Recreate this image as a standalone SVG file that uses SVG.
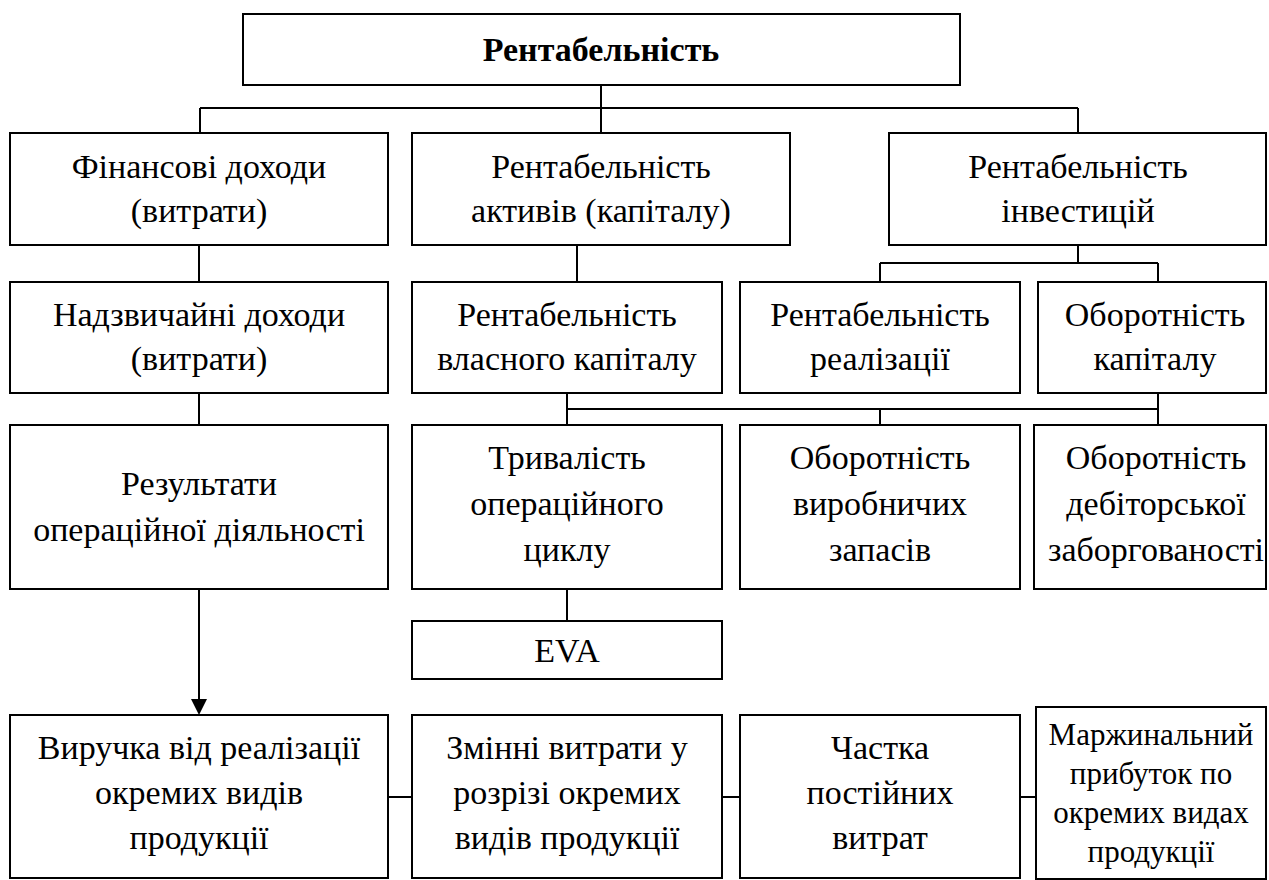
<svg xmlns="http://www.w3.org/2000/svg" width="1269" height="880" viewBox="0 0 1269 880">
  <style>
    .box { fill: #ffffff; stroke: #000000; stroke-width: 2; }
    .ln { fill: none; stroke: #000000; stroke-width: 2; }
    text { font-family: "Liberation Serif", serif; font-size: 34px; fill: #000000; text-anchor: middle; }
    .title { font-weight: bold; font-size: 34px; }
    .small { font-size: 31px; }
  </style>
  <rect width="1269" height="880" fill="#ffffff"/>

  <!-- connectors -->
  <g id="connectors">
    <path class="ln" d="M601,85 V132 M200,108 H1078 M200,108 V133 M1078,108 V133"/>
    <path class="ln" d="M199,245 V282 M199,393 V425"/>
    <path class="ln" d="M577,245 V282"/>
    <path class="ln" d="M1078,245 V263 M880,263 H1158 M880,263 V282 M1158,263 V282"/>
    <path class="ln" d="M567,393 V425 M567,409 H1158 M880,409 V425 M1158,393 V425"/>
    <path class="ln" d="M567,589 V621"/>
    <path class="ln" d="M199,589 V700"/>
    <path d="M191,699 L207,699 L199,715 Z" fill="#000000"/>
    <path class="ln" d="M388,797 H412 M722,797 H740 M1020,797 H1036"/>
  </g>

  <g id="n-top">
    <rect class="box" x="243" y="14" width="717" height="71"/>
    <text class="title" x="601" y="61">Рентабельність</text>
  </g>

  <g id="n-fin">
    <rect class="box" x="10" y="133" width="378" height="112"/>
    <text x="199" y="178">Фінансові доходи</text>
    <text x="199" y="222">(витрати)</text>
  </g>
  <g id="n-assets">
    <rect class="box" x="412" y="133" width="378" height="112"/>
    <text x="601" y="178">Рентабельність</text>
    <text x="601" y="222">активів (капіталу)</text>
  </g>
  <g id="n-invest">
    <rect class="box" x="889" y="133" width="377" height="112"/>
    <text x="1078" y="178">Рентабельність</text>
    <text x="1078" y="222">інвестицій</text>
  </g>

  <g id="n-extra">
    <rect class="box" x="10" y="282" width="378" height="111"/>
    <text x="199" y="326">Надзвичайні доходи</text>
    <text x="199" y="370">(витрати)</text>
  </g>
  <g id="n-equity">
    <rect class="box" x="412" y="282" width="310" height="111"/>
    <text x="567" y="326">Рентабельність</text>
    <text x="567" y="370">власного капіталу</text>
  </g>
  <g id="n-sales">
    <rect class="box" x="740" y="282" width="280" height="111"/>
    <text x="880" y="326">Рентабельність</text>
    <text x="880" y="370">реалізації</text>
  </g>
  <g id="n-turnover">
    <rect class="box" x="1038" y="282" width="228" height="111"/>
    <text x="1155" y="326">Оборотність</text>
    <text x="1155" y="370">капіталу</text>
  </g>

  <g id="n-ops">
    <rect class="box" x="10" y="425" width="378" height="164"/>
    <text x="199" y="495">Результати</text>
    <text x="199" y="541">операційної діяльності</text>
  </g>
  <g id="n-cycle">
    <rect class="box" x="412" y="425" width="310" height="164"/>
    <text x="567" y="469">Тривалість</text>
    <text x="567" y="515">операційного</text>
    <text x="567" y="561">циклу</text>
  </g>
  <g id="n-stock">
    <rect class="box" x="740" y="425" width="280" height="164"/>
    <text x="880" y="469">Оборотність</text>
    <text x="880" y="515">виробничих</text>
    <text x="880" y="561">запасів</text>
  </g>
  <g id="n-debt">
    <rect class="box" x="1034" y="425" width="232" height="164"/>
    <text x="1156" y="469">Оборотність</text>
    <text x="1156" y="515">дебіторської</text>
    <text x="1156" y="561">заборгованості</text>
  </g>

  <g id="n-eva">
    <rect class="box" x="412" y="621" width="310" height="58"/>
    <text x="567" y="662">EVA</text>
  </g>

  <g id="n-revenue">
    <rect class="box" x="10" y="715" width="378" height="163"/>
    <text x="199" y="759">Виручка від реалізації</text>
    <text x="199" y="804">окремих видів</text>
    <text x="199" y="849">продукції</text>
  </g>
  <g id="n-variable">
    <rect class="box" x="412" y="715" width="310" height="163"/>
    <text x="567" y="759">Змінні витрати у</text>
    <text x="567" y="804">розрізі окремих</text>
    <text x="567" y="849">видів продукції</text>
  </g>
  <g id="n-fixed">
    <rect class="box" x="740" y="715" width="280" height="163"/>
    <text x="880" y="759">Частка</text>
    <text x="880" y="804">постійних</text>
    <text x="880" y="849">витрат</text>
  </g>
  <g id="n-margin">
    <rect class="box" x="1036" y="707" width="230" height="172"/>
    <text class="small" x="1151" y="745">Маржинальний</text>
    <text class="small" x="1151" y="784">прибуток по</text>
    <text class="small" x="1151" y="823">окремих видах</text>
    <text class="small" x="1151" y="862">продукції</text>
  </g>
</svg>
